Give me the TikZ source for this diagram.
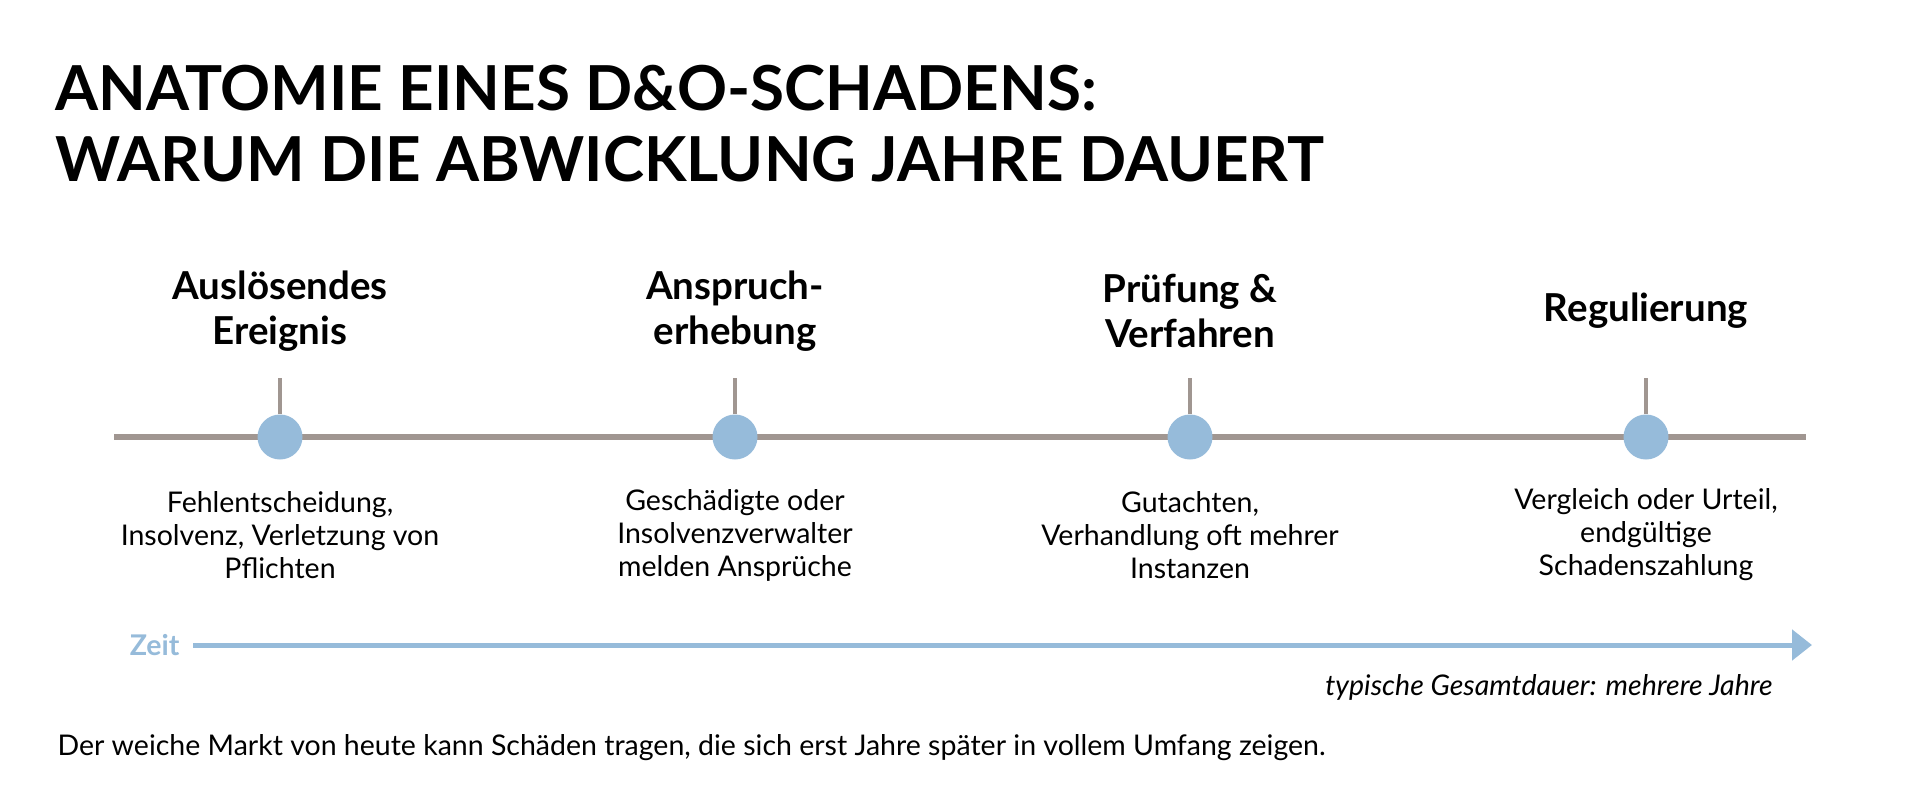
\documentclass[tikz,border=0pt]{standalone}
\usepackage{fontspec}
\setmainfont{Lato}
\usetikzlibrary{arrows.meta}
\definecolor{axisgray}{RGB}{160,150,145}
\definecolor{dotblue}{RGB}{150,187,218}
\begin{document}
\begin{tikzpicture}[x=1pt,y=-1pt,
  head/.style={align=center,font=\fontsize{38.5}{45}\selectfont\bfseries},
  desc/.style={align=center,font=\fontsize{28.5}{33}\selectfont},
  dot/.style={circle,fill=dotblue,minimum size=45pt,inner sep=0pt},
  tick/.style={draw=axisgray,line width=4pt}]

\useasboundingbox (0,0) rectangle (1920,800);

\node[anchor=base west,align=left,font=\fontsize{62}{71}\selectfont\bfseries] (title) at (52,181)
  {ANATOMIE EINES D\&O-SCHADENS:\\WARUM DIE ABWICKLUNG JAHRE DAUERT};

\coordinate (ls) at (114,437);
\coordinate (le) at (1806,437);
\draw[axisgray,line width=6pt] (ls) -- (le);

\def\xa{280}
\def\xb{735}
\def\xc{1190}
\def\xd{1646}

\foreach \x/\n in {\xa/a,\xb/b,\xc/c,\xd/d}{
  \coordinate (t\n) at (\x,378);
  \node[dot] (p\n) at (\x,437) {};
  \draw[tick] (t\n) -- (p\n);
}

\node[head] (ha) at (\xa,311) {Auslösendes\\Ereignis};
\node[head] (hb) at (\xb,311) {Anspruch-\\erhebung};
\node[head] (hc) at (\xc,311) {Prüfung \&\\Verfahren};
\node[head] (hd) at (\xd,311) {Regulierung};

\node[desc] (da) at (\xa,535) {Fehlentscheidung,\\Insolvenz, Verletzung von\\Pflichten};
\node[desc] (db) at (\xb,535) {Geschädigte oder\\Insolvenzverwalter\\melden Ansprüche};
\node[desc] (dc) at (\xc,535) {Gutachten,\\Verhandlung oft mehrer\\Instanzen};
\node[desc] (dd) at (\xd,535) {Vergleich oder Urteil,\\endgültige\\Schadenszahlung};

\node[anchor=east,text=dotblue,font=\fontsize{28.5}{32}\selectfont\bfseries] (zeit) at (183,645) {Zeit};
\coordinate (ze) at (1812,645);
\draw[dotblue,line width=5pt,-{Triangle[length=20pt,width=30pt]}] (zeit.east) ++(10,0) -- (ze);

\node[anchor=base east,font=\fontsize{28.5}{32}\selectfont\itshape] (dauer) at (1776,695)
  {typische Gesamtdauer: mehrere Jahre};

\node[anchor=base west,font=\fontsize{28.5}{32}\selectfont] (fuss) at (54,755)
  {Der weiche Markt von heute kann Schäden tragen, die sich erst Jahre später in vollem Umfang zeigen.};
\end{tikzpicture}
\end{document}
